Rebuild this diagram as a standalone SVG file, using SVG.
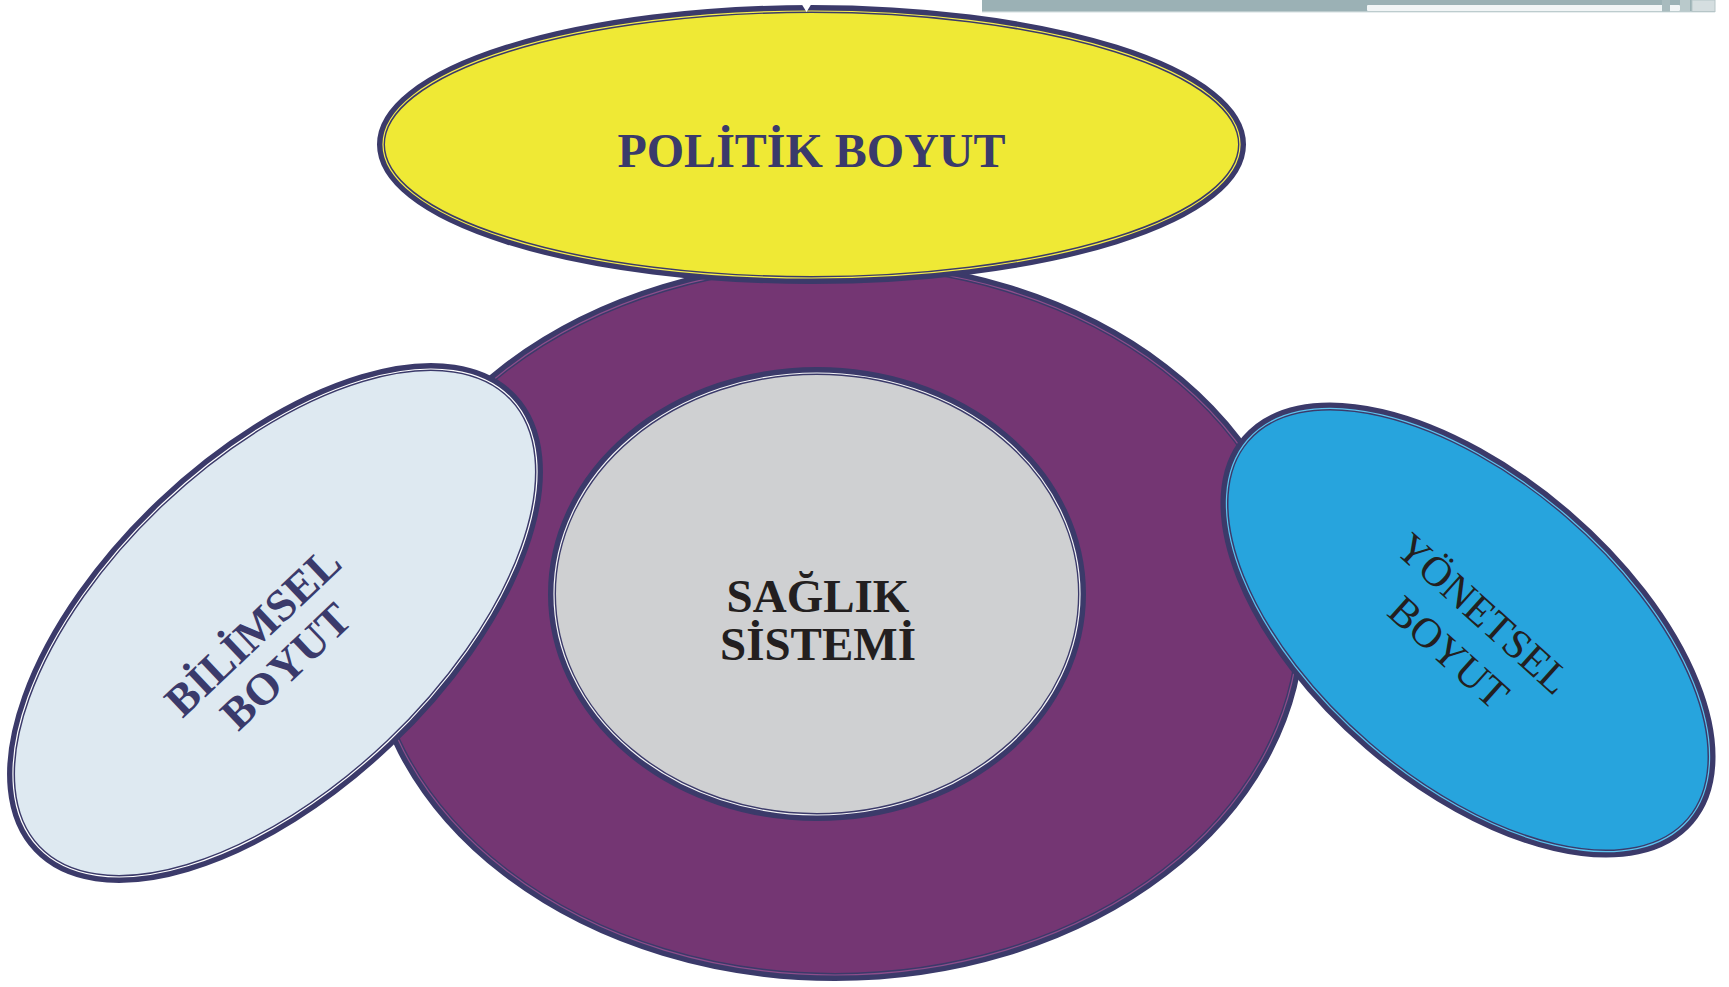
<svg xmlns="http://www.w3.org/2000/svg" width="1729" height="987" viewBox="0 0 1729 987">
<style>
.edge{stroke:#3b3a6a;stroke-width:8}
.inner{fill:none;stroke-width:1.2}
.lbl{font-family:"Liberation Serif","Times New Roman",serif;text-anchor:middle}
.b{font-weight:bold}
.navy{fill:#3a3a6b}
.dark{fill:#231f20}
</style>
<rect width="1729" height="987" fill="#ffffff"/>
<g id="toolbar">
<rect x="982" y="0" width="733" height="12" fill="#9bb1b5"/>
<rect x="982" y="11.5" width="733" height="1.2" fill="#dfe7e8"/>
<rect x="1367" y="5" width="313" height="6" rx="1" fill="#f1f5f6"/>
<rect x="1662" y="0" width="8" height="11.5" fill="#a8bbbe"/>
<rect x="1680" y="0" width="10" height="11.5" fill="#b9c9cb"/>
<rect x="1692" y="0" width="23" height="11.5" fill="#d5dee0" stroke="#b6c5c7" stroke-width="1"/>
</g>
<g id="connectors"></g>
<g id="outer-ring">
<ellipse class="edge" cx="835" cy="620" rx="466" ry="357" fill="#743673"/>
<ellipse class="inner" cx="835" cy="620" rx="464" ry="355" stroke="#8d4e8b"/>
</g>
<g id="saglik-sistemi">
<ellipse class="edge" cx="817" cy="594" rx="265" ry="223" fill="#cfd0d2"/>
<ellipse class="inner" cx="817" cy="594" rx="263" ry="221" stroke="#f4f4f6"/>
<text class="lbl b dark" x="818" y="612" font-size="47">SAĞLIK</text>
<text class="lbl b dark" x="818" y="660" font-size="47">SİSTEMİ</text>
</g>
<g id="politik-boyut">
<ellipse class="edge" cx="811.5" cy="144.5" rx="430.5" ry="135.5" fill="#efe935"/>
<ellipse class="inner" cx="811.5" cy="144.5" rx="428.5" ry="133.5" stroke="#f5ee4c"/>
<polygon points="801,3 812,3 806.5,12" fill="#ffffff"/>
<text class="lbl b navy" x="811.5" y="167" font-size="48">POLİTİK BOYUT</text>
</g>
<g id="bilimsel-boyut" transform="translate(275 623) rotate(-43.5)">
<ellipse class="edge" cx="0" cy="0" rx="328" ry="166" fill="#dee9f1"/>
<ellipse class="inner" cx="0" cy="0" rx="326" ry="164" stroke="#ffffff"/>
</g>
<g id="bilimsel-label" transform="translate(269.5 649) rotate(-43.5)">
<text class="lbl b navy" x="0" y="-9" font-size="45">BİLİMSEL</text>
<text class="lbl b navy" x="0" y="39" font-size="45">BOYUT</text>
</g>
<g id="yonetsel-boyut" transform="translate(1468 630) rotate(40.7)">
<ellipse class="edge" cx="0" cy="0" rx="293" ry="153" fill="#27a4dd"/>
<ellipse class="inner" cx="0" cy="0" rx="291" ry="151" stroke="#5cc3ee"/>
</g>
<g id="yonetsel-label" transform="translate(1466 633) rotate(42)">
<text class="lbl dark" x="0" y="-12" font-size="42">YÖNETSEL</text>
<text class="lbl dark" x="0" y="40" font-size="42">BOYUT</text>
</g>
</svg>
